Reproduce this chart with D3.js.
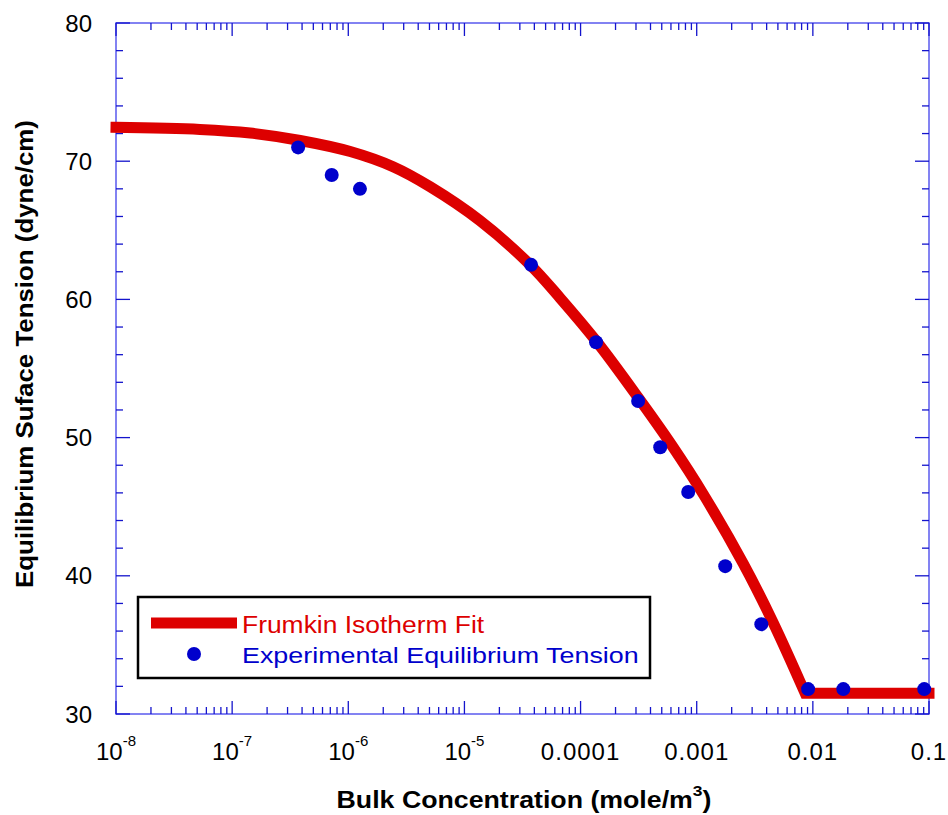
<!DOCTYPE html>
<html>
<head>
<meta charset="utf-8">
<script src="https://cdn.jsdelivr.net/npm/d3@7"></script>
<style>
  html, body { margin: 0; padding: 0; background: #fff; }
  svg { display: block; font-family: "Liberation Sans", Arial, sans-serif; }
</style>
</head>
<body>
<svg id="chart" width="948" height="815"></svg>
<script>
// ---- data ----
const expConc = [3.7e-7, 7.2e-7, 1.26e-6, 3.75e-5, 1.36e-4, 3.13e-4, 4.85e-4, 8.45e-4, 1.76e-3, 3.6e-3, 9.1e-3, 0.0183, 0.091];
const expTension = [71.0, 69.0, 68.0, 62.5, 56.9, 52.65, 49.3, 46.06, 40.7, 36.5, 31.8, 31.8, 31.8];

const fitConc = [1e-8, 5.28e-8, 1.43e-7, 3.85e-7, 1.04e-6, 2.43e-6, 5.07e-6, 1.36e-5, 3.68e-5, 6.67e-5, 1.39e-4, 3.13e-4, 6.15e-4, 1.14e-3, 2.51e-3, 4.56e-3, 8.59e-3];
const fitTension = [72.45, 72.3, 72.04, 71.5, 70.7, 69.6, 68.15, 65.7, 62.5, 60.1, 56.9, 52.9, 49.4, 45.9, 40.9, 36.6, 31.5];
const fitFlatConc = [8.59e-3, 0.1];
const fitFlatTension = [31.5, 31.5];

const xTickValues = [1e-8, 1e-7, 1e-6, 1e-5, 1e-4, 1e-3, 1e-2, 1e-1];
const xTickLabels = ["10^-8", "10^-7", "10^-6", "10^-5", "0.0001", "0.001", "0.01", "0.1"];
const yTickValues = [30, 40, 50, 60, 70, 80];
const yTickLabels = ["30", "40", "50", "60", "70", "80"];

const seriesNames = ["Frumkin Isotherm Fit", "Experimental Equilibrium Tension"];
const xTitle = "Bulk Concentration (mole/m";
const yTitle = "Equilibrium Suface Tension (dyne/cm)";

// ---- layout ----
const L = 116, R = 929, T = 23, B = 714;
const RED = "#dd0000", BLUE = "#0000cc";
const FRAME = "#5a5aee", TICK = "#1414cc";

const svg = d3.select("#chart");
const x = d3.scaleLog().domain([1e-8, 0.1]).range([L, R]);
const y = d3.scaleLinear().domain([30, 80]).range([B, T]);

// horizontally stretch a text element (in its own frame) to a target width
function fitWidth(sel, target, fromLeft) {
  const bb = sel.node().getBBox();
  const s = target / bb.width;
  const cx = fromLeft ? bb.x : bb.x + bb.width / 2;
  const prev = sel.attr("transform") || "";
  sel.attr("transform", `${prev} translate(${cx},0) scale(${s},1) translate(${-cx},0)`);
}

// minor ticks
const xMinor = [];
for (let e = -8; e < -1; e++) for (let m = 2; m <= 9; m++) xMinor.push(m * Math.pow(10, e));
const yMinor = d3.range(32, 80, 2).filter(v => v % 10 !== 0);

const gAx = svg.append("g");
gAx.append("rect").attr("x", L).attr("y", T).attr("width", R - L).attr("height", B - T)
  .attr("fill", "none").attr("stroke", FRAME).attr("stroke-width", 1.5);

const tk = gAx.append("g").attr("stroke", TICK).attr("stroke-width", 1.3);
xTickValues.forEach(v => {
  tk.append("line").attr("x1", x(v)).attr("x2", x(v)).attr("y1", B).attr("y2", B - 13);
  tk.append("line").attr("x1", x(v)).attr("x2", x(v)).attr("y1", T).attr("y2", T + 13);
});
xMinor.forEach(v => {
  tk.append("line").attr("x1", x(v)).attr("x2", x(v)).attr("y1", B).attr("y2", B - 7);
  tk.append("line").attr("x1", x(v)).attr("x2", x(v)).attr("y1", T).attr("y2", T + 7);
});
yTickValues.forEach(v => {
  tk.append("line").attr("x1", L).attr("x2", L + 14).attr("y1", y(v)).attr("y2", y(v));
  tk.append("line").attr("x1", R).attr("x2", R - 14).attr("y1", y(v)).attr("y2", y(v));
});
yMinor.forEach(v => {
  tk.append("line").attr("x1", L).attr("x2", L + 7).attr("y1", y(v)).attr("y2", y(v));
  tk.append("line").attr("x1", R).attr("x2", R - 7).attr("y1", y(v)).attr("y2", y(v));
});

// tick labels
yTickValues.forEach((v, i) => {
  svg.append("text").attr("x", 92).attr("y", y(v)).attr("dy", "0.36em")
    .attr("text-anchor", "end").attr("font-size", 24).attr("fill", "#000")
    .text(yTickLabels[i]);
});
xTickValues.forEach((v, i) => {
  const lab = xTickLabels[i];
  const t = svg.append("text").attr("x", x(v)).attr("y", 760)
    .attr("text-anchor", "middle").attr("font-size", 24).attr("fill", "#000");
  if (lab.includes("^")) {
    const [b, e] = lab.split("^");
    t.append("tspan").text(b);
    t.append("tspan").attr("font-size", 15).attr("dy", -14).text(e);
  } else {
    t.attr("letter-spacing", 1).text(lab);
  }
});

// axis titles
const xt = svg.append("text").attr("x", 524).attr("y", 808)
  .attr("text-anchor", "middle").attr("font-size", 23).attr("font-weight", "bold").attr("fill", "#000");
xt.append("tspan").text(xTitle);
xt.append("tspan").attr("font-size", 15).attr("dy", -12).text("3");
xt.append("tspan").attr("dy", 12).text(")");
fitWidth(xt, 375);

const ytG = svg.append("g").attr("transform", `translate(33,354) rotate(-90)`);
const yt = ytG.append("text").attr("x", 0).attr("y", 0)
  .attr("text-anchor", "middle").attr("font-size", 23).attr("font-weight", "bold").attr("fill", "#000")
  .text(yTitle);
fitWidth(yt, 468);

// fit curve
const lineGen = d3.line().x(d => x(d[0])).y(d => y(d[1])).curve(d3.curveCatmullRom.alpha(0.5));
const curvePts = fitConc.map((c, i) => [c, fitTension[i]]);
const flatPts = fitFlatConc.map((c, i) => [c, fitFlatTension[i]]);
const pathD = lineGen(curvePts) + flatPts.slice(1).map(p => `L${x(p[0])},${y(p[1])}`).join("");
svg.append("path").attr("d", pathD).attr("fill", "none").attr("stroke", RED)
  .attr("stroke-width", 11).attr("stroke-linecap", "square").attr("stroke-linejoin", "miter");

// experimental points
svg.append("g").selectAll("circle").data(expConc.map((c, i) => [c, expTension[i]]))
  .join("circle").attr("cx", d => x(d[0])).attr("cy", d => y(d[1])).attr("r", 7).attr("fill", BLUE);

// legend
const lg = svg.append("g");
lg.append("rect").attr("x", 138).attr("y", 597).attr("width", 512).attr("height", 81)
  .attr("fill", "#fff").attr("stroke", "#000").attr("stroke-width", 2.5);
lg.append("line").attr("x1", 151).attr("x2", 237).attr("y1", 623).attr("y2", 623)
  .attr("stroke", RED).attr("stroke-width", 11);
const t1 = lg.append("text").attr("x", 242).attr("y", 633).attr("font-size", 23).attr("fill", RED).text(seriesNames[0]);
fitWidth(t1, 243, true);
lg.append("circle").attr("cx", 194).attr("cy", 654).attr("r", 7).attr("fill", BLUE);
const t2 = lg.append("text").attr("x", 242).attr("y", 663).attr("font-size", 23).attr("fill", BLUE).text(seriesNames[1]);
fitWidth(t2, 397, true);
</script>
</body>
</html>
